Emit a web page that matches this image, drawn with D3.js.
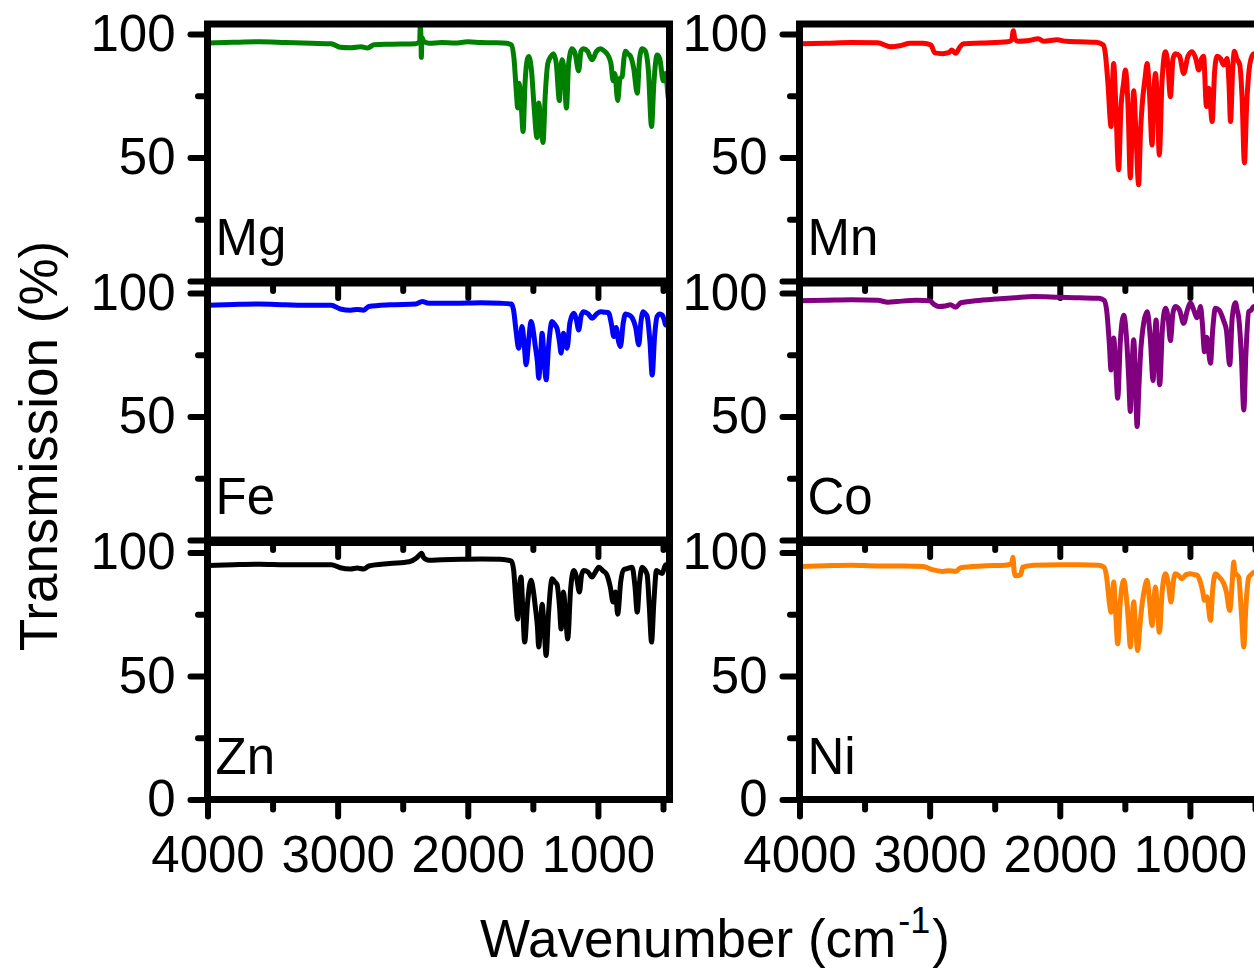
<!DOCTYPE html>
<html lang="en">
<head>
  <meta charset="UTF-8" />
  <title>FTIR spectra</title>
  <script src="https://cdn.jsdelivr.net/npm/d3@7"></script>
  <style>
    html, body { margin: 0; padding: 0; background: #fff; overflow: hidden; }
    svg { display: block; }
    text { font-family: "Liberation Sans", Arial, sans-serif; fill: #000; }
  </style>
</head>
<body>
<script>
// wavenumber (cm-1), transmission (%)
const mg = [[4000,96.3],[3800,96.6],[3600,96.8],[3400,96.5],[3200,96.2],[3050,96],[2980,94.6],[2900,94.4],[2820,94.8],[2770,94.3],[2720,95.6],[2600,95.8],[2400,96],[2370,97],[2365,103.5],[2360,99],[2357,90.5],[2352,98.5],[2340,97],[2300,96.2],[2200,96.5],[2100,96.3],[2000,96.8],[1900,96.5],[1800,96.4],[1700,96.2],[1665,95.5],[1645,90],[1625,75],[1617,70],[1605,80],[1590,72],[1575,60.5],[1560,80],[1545,89],[1532,90.8],[1510,85],[1490,70],[1468,58],[1455,72],[1440,65],[1422,56],[1405,75],[1385,88],[1360,91],[1342,92],[1320,88],[1296,73],[1285,85],[1276,89.5],[1260,85],[1242,70],[1225,88],[1199,94],[1175,92],[1148,85],[1130,93],[1111,94],[1080,93],[1045,89.5],[1010,93],[980,94],[950,93],[919,91],[900,88],[883,81],[870,84],[848,73],[830,82],[814,82.7],[800,90],[788,93],[770,92],[750,91],[725,86],[698,76],[680,90],[660,94],[635,93],[612,85],[588,62.5],[570,80],[545,91.5],[525,90],[498,81],[480,84],[455,73],[450,74]];

const mn = [[4000,96],[3800,96.2],[3600,96.5],[3400,96.4],[3300,94.8],[3230,95.2],[3150,96.2],[3050,96.2],[2990,95.5],[2960,92.3],[2900,92],[2850,92.5],[2830,93.5],[2800,92.2],[2770,94.5],[2740,96],[2600,96.3],[2400,96.8],[2370,97.5],[2357,101.3],[2345,98],[2320,97],[2250,97.2],[2165,98],[2120,97],[2022,97.6],[1950,97],[1850,96.8],[1720,96.6],[1665,95.5],[1650,92],[1630,80],[1606,62.5],[1595,80],[1586,88],[1570,72],[1548,45],[1530,70],[1510,80],[1496,85.4],[1475,70],[1458,41.7],[1445,60],[1432,77],[1415,60],[1394,38.9],[1380,60],[1368,70.6],[1345,82],[1329,88],[1310,75],[1291,55],[1278,75],[1265,84],[1250,72],[1235,51],[1215,80],[1188,92.8],[1170,88],[1150,74.6],[1130,90],[1112,92],[1080,91],[1048,84],[1015,91],[983,92.8],[955,90],[932,85.4],[910,90],[895,91],[873,70.6],[855,78],[829,64.5],[810,85],[791,91],[765,90],[740,87.4],[715,90],[700,80],[688,64.5],[672,85],[658,93],[640,90],[617,87.4],[600,75],[581,47.8],[565,70],[548,84],[530,90],[509,92],[480,90],[450,88]];

const fe = [[4000,95],[3800,95.3],[3600,95.5],[3400,95.2],[3200,95],[3050,95],[2980,93.5],[2900,93],[2850,93.3],[2800,93],[2760,94.5],[2600,95.2],[2400,95.5],[2350,96.5],[2300,95.8],[2100,95.8],[1900,96],[1750,95.8],[1665,95.5],[1648,93],[1630,85],[1609,77.6],[1595,82],[1583,86.4],[1565,78],[1552,70.9],[1530,82],[1514,88.4],[1495,84],[1481,78.3],[1465,72],[1455,65.5],[1440,75],[1429,83.7],[1412,72],[1398,64.8],[1380,78],[1352,88.4],[1330,87],[1314,85.6],[1295,80],[1283,75.6],[1265,83.7],[1250,80],[1237,77.6],[1215,88],[1186,91.8],[1165,89],[1148,85],[1128,91],[1109,92.4],[1075,91.5],[1045,89.7],[1010,91.5],[980,92.4],[950,92.2],[919,92],[895,87],[878,82.3],[860,86],[840,80],[827,78.3],[805,88],[788,91.5],[760,91],[737,89.9],[710,86],[686,79],[670,88],[652,92.4],[635,91.5],[622,90.5],[600,80],[583,66.8],[565,82],[545,90.5],[525,91.5],[506,91],[490,89],[480,87],[450,89]];

const co = [[4000,96.8],[3800,97],[3600,97.2],[3400,97],[3320,96.2],[3250,96.5],[3100,97],[3000,96.8],[2970,95.5],[2930,94.5],[2880,94.7],[2840,95.2],[2800,94.2],[2760,96],[2650,96.8],[2500,97.5],[2350,98],[2200,98.5],[2000,98.2],[1850,98],[1700,97.8],[1660,97],[1640,93],[1620,80],[1606,68.8],[1595,76],[1586,81.7],[1570,70],[1555,57.4],[1535,80],[1509,91],[1485,80],[1470,65],[1458,52],[1445,70],[1432,81],[1418,65],[1406,45.9],[1392,62],[1381,74],[1355,88],[1329,92.4],[1305,82],[1283,64.5],[1270,82],[1260,89],[1248,78],[1232,62.8],[1212,85],[1188,93.8],[1168,90],[1150,80.7],[1130,92],[1112,94.5],[1080,93],[1048,87.7],[1020,93],[996,96],[970,93],[945,89.9],[930,92],[919,94.5],[905,88],[888,76.2],[870,82],[842,71.5],[825,85],[804,93.8],[775,93],[740,88.6],[720,85],[694,70.9],[675,90],[650,96],[637,93],[625,90],[605,75],[586,52.6],[570,75],[548,92.4],[530,93],[509,94.5],[480,93],[450,92]];

const zn = [[4000,94.7],[3800,95],[3600,95.2],[3400,95],[3200,95],[3050,95],[2980,93.8],[2900,93.3],[2850,93.7],[2800,93.3],[2760,94.5],[2600,95.5],[2450,96.2],[2400,97.5],[2370,99],[2355,99.6],[2340,98],[2300,96.8],[2200,97],[2050,97.2],[1900,97.3],[1750,97.2],[1665,96.5],[1648,93],[1630,80],[1617,73],[1605,85],[1591,90],[1578,78],[1563,63.7],[1540,80],[1514,88.7],[1495,84],[1481,77.9],[1465,70],[1455,61.7],[1440,72],[1429,79],[1412,68],[1398,58.3],[1380,75],[1352,89.3],[1330,88],[1314,87],[1295,78],[1283,69],[1270,80],[1265,84],[1250,76],[1232,65],[1210,85],[1186,92.7],[1165,90],[1142,84],[1125,91],[1109,92.7],[1075,92],[1045,90],[1020,92],[993,94],[960,92.5],[932,91],[905,86],[883,79.9],[865,84],[848,75],[825,88],[801,93],[770,93.5],[737,94],[715,86],[698,75.8],[680,88],[660,94],[640,93],[622,91],[605,78],[588,63.7],[570,80],[550,92.7],[530,92],[506,91.5],[480,95],[450,93]];

const ni = [[4000,94.3],[3800,94.6],[3600,94.8],[3400,94.5],[3200,94.5],[3050,94.3],[2980,93],[2900,92.3],[2850,92.6],[2800,92.3],[2760,93.8],[2600,94.5],[2420,94.8],[2370,95.5],[2360,98],[2350,92],[2340,90.5],[2300,91],[2285,94],[2200,94.8],[2000,95],[1850,95],[1700,94.8],[1660,94],[1640,90],[1620,80],[1606,75.8],[1595,82],[1586,88],[1570,75],[1555,63],[1535,80],[1509,88.7],[1485,80],[1470,70],[1458,61.7],[1445,72],[1432,80],[1418,70],[1401,60.3],[1388,68],[1376,75],[1350,85],[1329,88.7],[1310,80],[1291,70.4],[1278,80],[1265,86],[1250,77],[1235,67.7],[1212,85],[1188,91.4],[1165,87],[1145,79.9],[1128,88],[1112,91.4],[1085,90.5],[1061,89.3],[1030,91],[996,91.4],[970,91],[945,90.8],[920,88],[905,85],[888,80.6],[870,82],[842,72.5],[825,85],[804,91.4],[775,90],[740,87.4],[720,84],[694,76.5],[675,88],[668,94],[663,96.1],[655,92],[625,89.9],[605,76],[586,61.7],[570,78],[548,89.9],[530,91],[509,92],[480,91],[450,90]];

const names  = ["Mg", "Mn", "Fe", "Co", "Zn", "Ni"];
const series = [mg, mn, fe, co, zn, ni];
const colors = ["#008000", "#ff0000", "#0000ff", "#800080", "#000000", "#ff8000"];

const xMajor = [4000, 3000, 2000, 1000];
const xMinor = [3500, 2500, 1500, 500];
const yMajor = [0, 50, 100];
const yMinor = [25, 75];

const W = 1254, H = 970;
const colX = [207.5, 799.5];   // left edge of each column
const panelW = 462;
const rowZero = [281, 540, 799.5]; // pixel y of 0 % in each row
const panelH = 257;
const FS = 51;

const svg = d3.select("body").append("svg")
  .attr("width", W).attr("height", H);

const line = d3.line()
  .x(d => d[0]).y(d => d[1])
  .curve(d3.curveMonotoneX);

series.forEach((data, i) => {
  const col = i % 2, row = Math.floor(i / 2);
  const x = d3.scaleLinear().domain([4000, 450]).range([colX[col], colX[col] + panelW]);
  const y = d3.scaleLinear().domain([0, 104]).range([rowZero[row], rowZero[row] - panelH]);
  const g = svg.append("g");

  g.append("path")
    .datum(data.map(d => [x(d[0]), y(d[1])]))
    .attr("d", line)
    .attr("fill", "none")
    .attr("stroke", colors[i])
    .attr("stroke-width", 5)
    .attr("stroke-linejoin", "round");

  // frame
  g.append("rect")
    .attr("x", x.range()[0]).attr("y", y.range()[1])
    .attr("width", panelW).attr("height", rowZero[row] - y.range()[1])
    .attr("fill", "none").attr("stroke", "#000").attr("stroke-width", 7);

  // y axis
  const yAx = g.append("g").attr("transform", `translate(${x.range()[0]},0)`);
  yAx.call(d3.axisLeft(y).tickValues(yMajor).tickSize(17).tickPadding(15)
      .tickFormat(v => (v === 0 && row < 2) ? "" : v));
  yAx.call(ax => ax.append("g").call(d3.axisLeft(y).tickValues(yMinor).tickSize(9.5).tickFormat("")));

  // x axis
  const xAx = g.append("g").attr("transform", `translate(0,${rowZero[row]})`);
  xAx.call(d3.axisBottom(x).tickValues(xMajor).tickSize(17).tickPadding(19)
      .tickFormat(v => row === 2 ? v : ""));
  xAx.call(ax => ax.append("g").call(d3.axisBottom(x).tickValues(xMinor).tickSize(10).tickFormat("")));

  g.selectAll(".domain").remove();
  g.selectAll(".tick line")
    .attr("stroke", "#000").attr("stroke-width", 6).attr("stroke-linecap", "round");
  g.selectAll(".tick text")
    .style("font-family", '"Liberation Sans", Arial, sans-serif')
    .attr("font-size", FS).attr("fill", "#000");

  g.append("text")
    .attr("x", x.range()[0] + 8).attr("y", rowZero[row] - 26)
    .attr("font-size", FS)
    .text(names[i]);
});

svg.append("text")
  .attr("transform", "translate(57,446) rotate(-90)")
  .attr("text-anchor", "middle")
  .attr("font-size", 53)
  .text("Transmission (%)");

const xt = svg.append("text")
  .attr("x", 480).attr("y", 957)
  .attr("font-size", 53);
xt.append("tspan").text("Wavenumber (cm");
xt.append("tspan").attr("font-size", 36).attr("dx", 2).attr("dy", -24).text("-1");
xt.append("tspan").attr("dx", 2).attr("dy", 24).text(")");
</script>
</body>
</html>
